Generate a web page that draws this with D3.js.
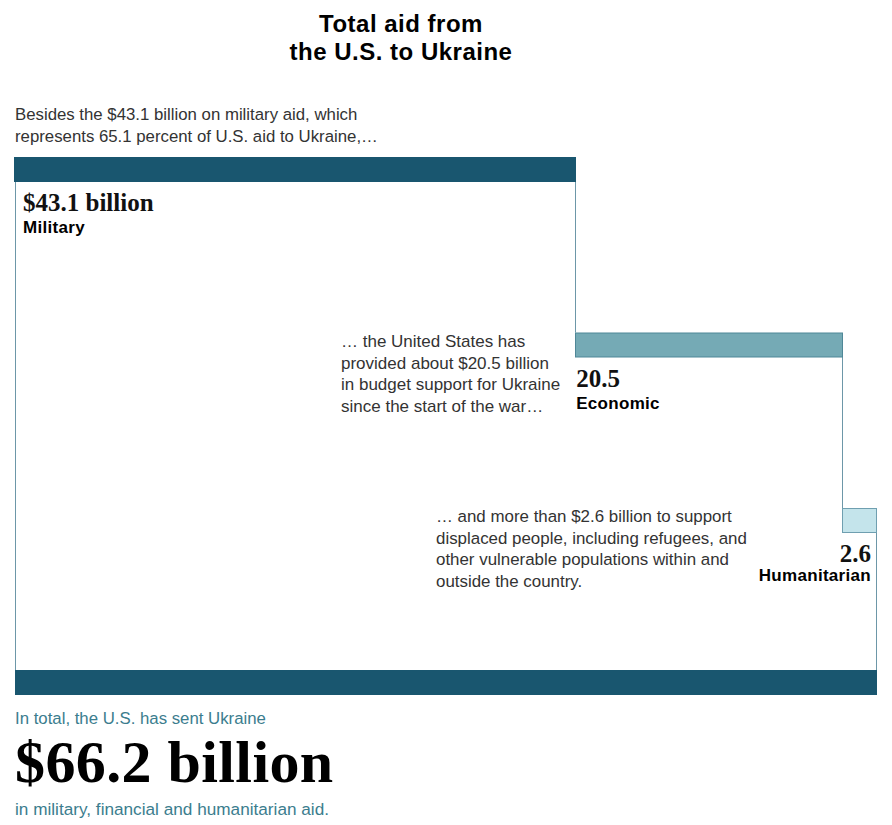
<!DOCTYPE html>
<html>
<head>
<meta charset="utf-8">
<script src="https://cdn.jsdelivr.net/npm/d3@7"></script>
<style>
  html, body { margin: 0; padding: 0; background: #fff; }
  svg { display: block; }
  .sans { font-family: "Liberation Sans", Arial, sans-serif; }
  .serif { font-family: "Liberation Serif", "Times New Roman", serif; }
</style>
</head>
<body>
<div id="chart"></div>
<script>
// ---- Data ----
const categories = ["Military", "Economic", "Humanitarian"];
const values = [43.1, 20.5, 2.6];
const valueLabels = ["$43.1 billion", "20.5", "2.6"];
const total = 66.2;
const totalLabel = "$66.2 billion";
const titleLines = ["Total aid from", "the U.S. to Ukraine"];
const introLines = ["Besides the $43.1 billion on military aid, which",
                    "represents 65.1 percent of U.S. aid to Ukraine,\u2026"];
const econNote = ["\u2026 the United States has",
                  "provided about $20.5 billion",
                  "in budget support for Ukraine",
                  "since the start of the war\u2026"];
const humNote = ["\u2026 and more than $2.6 billion to support",
                 "displaced people, including refugees, and",
                 "other vulnerable populations within and",
                 "outside the country."];
const totalTop = "In total, the U.S. has sent Ukraine";
const totalBottom = "in military, financial and humanitarian aid.";

// ---- Layout ----
const W = 892, H = 825;
const barH = 24;
const colors = ["#19566f", "#75aab5", "#c4e4eb"];
const strokes = ["#19566f", "#4f8797", "#6f9fb0"];
const lineColor = "#6d97a8";
const textColor = "#333333";
const teal = "#3b7d8e";

const svg = d3.select("#chart").append("svg").attr("width", W).attr("height", H);

const x = d3.scaleLinear().domain([0, total]).range([15, 877]);
const y = d3.scalePoint().domain(categories).range([157, 508]);
const yTotal = 670;

// cumulative starts
const starts = [];
values.reduce((acc, v, i) => { starts[i] = acc; return acc + v; }, 0);
const rows = categories.map((c, i) => ({ cat: c, v: values[i], s: starts[i], label: valueLabels[i] }));

// ---- Title ----
svg.append("g").selectAll("text").data(titleLines).join("text")
  .attr("class", "sans")
  .attr("x", 401).attr("y", (d, i) => 32 + i * 28)
  .attr("text-anchor", "middle")
  .attr("font-size", 24).attr("font-weight", "bold").attr("fill", "#000")
  .attr("letter-spacing", 0.5)
  .text(d => d);

// ---- Intro ----
svg.append("g").selectAll("text").data(introLines).join("text")
  .attr("class", "sans")
  .attr("x", 15).attr("y", (d, i) => 120 + i * 22)
  .attr("font-size", 16.8).attr("fill", textColor)
  .text(d => d);

// ---- Outline lines ----
const outline = svg.append("g").attr("fill", "none").attr("stroke", lineColor).attr("stroke-width", 1);
outline.append("line")
  .attr("x1", x(0) + 0.5).attr("x2", x(0) + 0.5)
  .attr("y1", y(categories[0]) + barH).attr("y2", yTotal);
rows.forEach((r, i) => {
  const xr = Math.round(x(r.s + r.v)) - 0.5;
  const y1 = y(r.cat) + barH;
  const y2 = i < rows.length - 1 ? y(rows[i + 1].cat) : yTotal;
  outline.append("line").attr("x1", xr).attr("x2", xr).attr("y1", y1).attr("y2", y2);
});

// ---- Step bars ----
svg.append("g").selectAll("rect").data(rows).join("rect")
  .attr("x", d => Math.round(x(d.s)) - 0.5)
  .attr("y", d => y(d.cat) + 0.5)
  .attr("width", d => Math.round(x(d.s + d.v)) - Math.round(x(d.s)))
  .attr("height", barH)
  .attr("fill", (d, i) => colors[i])
  .attr("stroke", (d, i) => strokes[i])
  .attr("stroke-width", 1);

// total bar
svg.append("rect")
  .attr("x", x(0)).attr("y", yTotal)
  .attr("width", x(total) - x(0)).attr("height", barH + 1)
  .attr("fill", colors[0]);

// ---- Labels ----
const lab = svg.append("g");
rows.forEach((r, i) => {
  const base = y(r.cat) + barH;
  let lx, anchor;
  if (i === 0) { lx = x(r.s) + 8; anchor = "start"; }
  else if (i === 1) { lx = x(r.s); anchor = "start"; }
  else { lx = x(r.s + r.v) - 6; anchor = "end"; }
  lab.append("text").attr("class", "serif")
    .attr("x", lx).attr("y", base + 30).attr("text-anchor", anchor)
    .attr("font-size", 25).attr("font-weight", "bold").attr("fill", "#111")
    .text(r.label);
  lab.append("text").attr("class", "sans")
    .attr("x", lx).attr("y", base + (i === 2 ? 49 : 52)).attr("text-anchor", anchor)
    .attr("font-size", 17).attr("font-weight", "bold").attr("fill", "#000")
    .attr("letter-spacing", 0.3)
    .text(r.cat);
});

// ---- Notes ----
svg.append("g").selectAll("text").data(econNote).join("text")
  .attr("class", "sans")
  .attr("x", 341).attr("y", (d, i) => 347 + i * 21.5)
  .attr("font-size", 17).attr("fill", textColor)
  .text(d => d);

svg.append("g").selectAll("text").data(humNote).join("text")
  .attr("class", "sans")
  .attr("x", 436).attr("y", (d, i) => 522 + i * 21.5)
  .attr("font-size", 16.9).attr("fill", textColor)
  .text(d => d);

// ---- Total text ----
svg.append("text").attr("class", "sans")
  .attr("x", 15).attr("y", 724)
  .attr("font-size", 16.8).attr("fill", teal)
  .text(totalTop);
svg.append("text").attr("class", "serif")
  .attr("x", 15).attr("y", 782)
  .attr("font-size", 60).attr("font-weight", "bold").attr("fill", "#000")
  .attr("letter-spacing", 0.4)
  .text(totalLabel);
svg.append("text").attr("class", "sans")
  .attr("x", 15).attr("y", 815)
  .attr("font-size", 17.2).attr("fill", teal)
  .text(totalBottom);
</script>
</body>
</html>
